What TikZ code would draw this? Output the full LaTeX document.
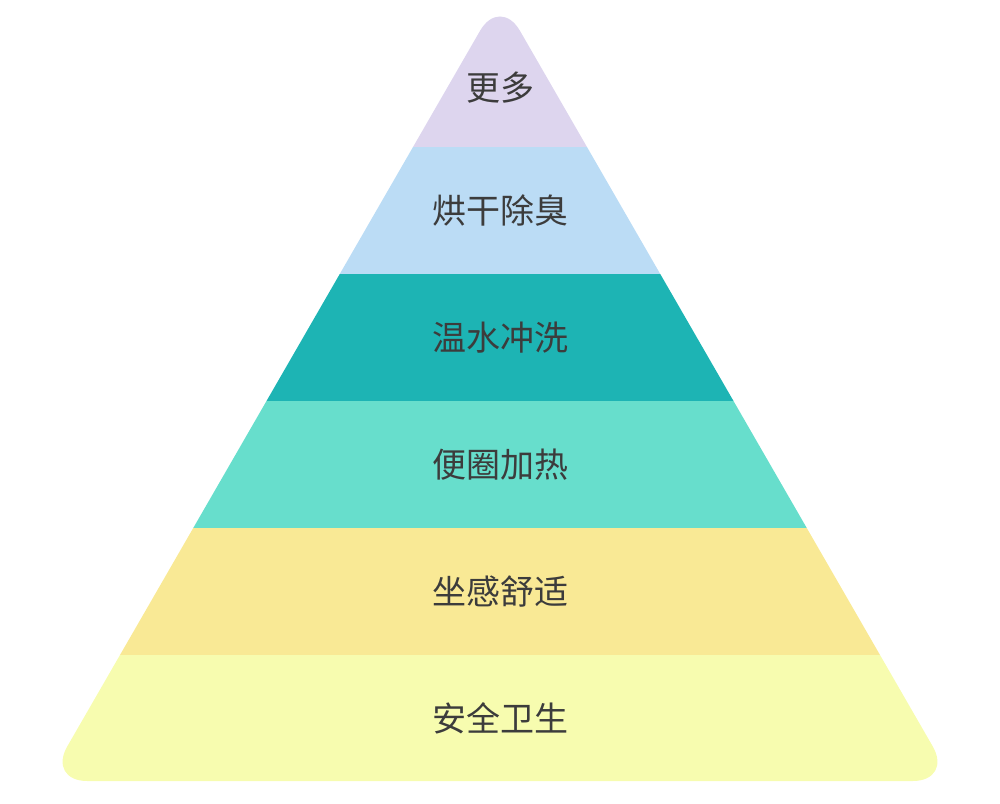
\documentclass[tikz,border=0pt]{standalone}
\usepackage{fontspec}
\newfontfamily\cjk{Noto Sans CJK SC}
\definecolor{cLav}{HTML}{DDD5EE}
\definecolor{cBlue}{HTML}{BBDCF5}
\definecolor{cTeal}{HTML}{1DB4B4}
\definecolor{cMint}{HTML}{67DECC}
\definecolor{cYel}{HTML}{F9E995}
\definecolor{cPale}{HTML}{F7FCAF}
\definecolor{cText}{HTML}{3C3C3C}
\tikzset{
  lbl/.style={font=\cjk\fontsize{34}{34}\selectfont, text=cText, inner sep=0pt, anchor=center},
}
\begin{document}
\begin{tikzpicture}[x=1pt,y=-1pt]
\useasboundingbox (0,0) rectangle (1000,803);
\begin{scope}
  \clip[rounded corners=40] (500,-3.8) -- (47.3,781) -- (952.7,781) -- cycle;
  \fill[cLav]  (0,-10) rectangle (1000,147);
  \fill[cBlue] (0,147) rectangle (1000,274);
  \fill[cTeal] (0,274) rectangle (1000,401);
  \fill[cMint] (0,401) rectangle (1000,528);
  \fill[cYel]  (0,528) rectangle (1000,655);
  \fill[cPale] (0,655) rectangle (1000,790);
\end{scope}
\node[lbl] (l1) at (500,88) {更多};
\node[lbl] (l2) at (500,210.5) {烘干除臭};
\node[lbl] (l3) at (500,337.5) {温水冲洗};
\node[lbl] (l4) at (500,464.5) {便圈加热};
\node[lbl] (l5) at (500,591.5) {坐感舒适};
\node[lbl] (l6) at (500,718) {安全卫生};
\end{tikzpicture}
\end{document}
